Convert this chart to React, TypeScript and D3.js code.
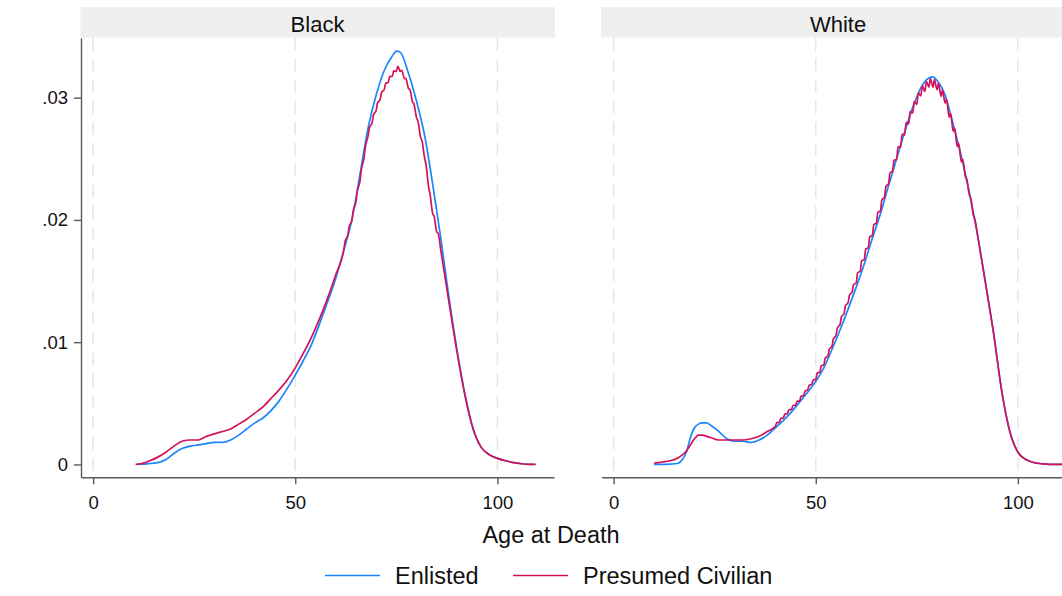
import { useEffect, useRef } from 'react';
import * as d3 from 'd3';

const panels = ['Black', 'White'];
const seriesNames = ['Enlisted', 'Presumed Civilian'];
const seriesColors = ['#1a85ff', '#d41159'];
const xTicks = [0, 50, 100];
const yTicks = [0, 0.01, 0.02, 0.03];
const yTickLabels = ['0', '.01', '.02', '.03'];

// [age, density]
const blackEnlisted: [number, number][] = [
  [11, 0], [12, 0.00002], [14, 0.00008], [16, 0.00015], [18, 0.0004], [20, 0.0009], [22, 0.0013],
  [24, 0.0015], [26, 0.0016], [28, 0.0017], [30, 0.0018], [32, 0.0018], [34, 0.002], [36, 0.0024],
  [38, 0.0029], [40, 0.0034], [42, 0.0038], [44, 0.0044], [46, 0.0052], [48, 0.0062], [50, 0.0073],
  [52, 0.0085], [54, 0.0098], [56, 0.0115], [58, 0.0133], [60, 0.0152], [62, 0.0175], [64, 0.02],
  [66, 0.0237], [68, 0.0275], [70, 0.0302], [72, 0.0322], [74, 0.0334], [75, 0.0338], [76, 0.0337],
  [78, 0.032], [80, 0.0297], [82, 0.0269], [84, 0.0229], [86, 0.0185], [88, 0.0137], [90, 0.0094],
  [92, 0.0057], [94, 0.0029], [96, 0.0014], [98, 0.0008], [100, 0.0005], [102, 0.0003], [104, 0.00015],
  [106, 0.00006], [108, 0.00001], [109, 0],
];

const blackCivilian: [number, number][] = [
  [10.5, 0], [12, 0.00008], [14, 0.0003], [16, 0.0006], [18, 0.001], [20, 0.0015], [22, 0.0019],
  [24, 0.002], [26, 0.002], [28, 0.0023], [30, 0.0025], [32, 0.0027], [34, 0.0029], [36, 0.0033],
  [38, 0.0037], [40, 0.0042], [42, 0.0047], [44, 0.0054], [46, 0.0061], [48, 0.0069], [50, 0.0079],
  [52, 0.0091], [54, 0.0104], [56, 0.0119], [58, 0.0136], [60, 0.0155],
  [62, 0.01755], [62.35, 0.01827], [63, 0.01875], [63.35, 0.01947], [64, 0.01995], [64.35, 0.02078],
  [65, 0.02145], [65.35, 0.02235], [66, 0.02315], [66.35, 0.02412], [67, 0.02505], [67.35, 0.02598],
  [68, 0.02685], [68.35, 0.02753], [69, 0.02795], [69.35, 0.0286], [70, 0.02895], [70.35, 0.02957],
  [71, 0.02985], [71.35, 0.03043], [72, 0.03065], [72.35, 0.03116], [73, 0.03125], [73.35, 0.03172],
  [74, 0.03175], [74.35, 0.03219], [75, 0.03215], [75.35, 0.03255], [76, 0.03215], [76.35, 0.03224],
  [77, 0.03155], [77.35, 0.03157], [78, 0.03075], [78.35, 0.03067], [79, 0.02965], [79.35, 0.02949],
  [80, 0.02835], [80.35, 0.02809], [81, 0.02675], [81.35, 0.02646], [82, 0.02505], [82.35, 0.02451],
  [83, 0.02265], [83.35, 0.02208], [84, 0.0205], [84.35, 0.0203], [85, 0.019], [85.35, 0.0189],
  [86, 0.0175], [88, 0.0133], [90, 0.0092], [92, 0.0056], [94, 0.0029], [96, 0.0014], [98, 0.0008],
  [100, 0.0005], [102, 0.0003], [104, 0.00015], [106, 0.00006], [108, 0.00001], [109.5, 0],
];

const whiteEnlisted: [number, number][] = [
  [10, 0], [12, 0], [14, 0.00003], [16, 0.0001], [17, 0.0004], [18, 0.001], [19, 0.0022], [20, 0.003],
  [21, 0.0033], [22, 0.0034], [23, 0.0034], [24, 0.0032], [26, 0.0027], [28, 0.0021], [30, 0.0019],
  [32, 0.0019], [34, 0.0018], [36, 0.002], [38, 0.0024], [40, 0.003], [42, 0.0036], [44, 0.0043],
  [46, 0.0051], [48, 0.0059], [50, 0.0068], [52, 0.0079], [54, 0.0094], [56, 0.011], [58, 0.0127],
  [60, 0.0145], [62, 0.0164], [64, 0.0185], [66, 0.0205], [68, 0.0228], [70, 0.025], [72, 0.0272],
  [74, 0.0292], [76, 0.0308], [78, 0.0316], [79, 0.0317], [80, 0.0314], [82, 0.0302], [84, 0.0278],
  [86, 0.0252], [88, 0.0222], [90, 0.0188], [92, 0.0148], [94, 0.0107], [96, 0.006], [98, 0.0027],
  [100, 0.001], [102, 0.0004], [104, 0.00015], [106, 0.00005], [108, 0.00001], [111, 0],
];

const whiteCivilian: [number, number][] = [
  [10, 0.0001], [12, 0.0002], [14, 0.0003], [16, 0.00055], [18, 0.0011], [19, 0.0016], [20, 0.0021],
  [21, 0.0024], [22, 0.0024], [23, 0.0023], [24, 0.0022], [26, 0.002], [28, 0.002], [30, 0.002],
  [32, 0.002], [34, 0.0021], [36, 0.0023], [38, 0.0027],
  [40, 0.0031], [40.35, 0.00342], [41, 0.00345], [41.35, 0.00377], [42, 0.0038], [42.35, 0.00412],
  [43, 0.00415], [43.35, 0.00447], [44, 0.0045], [44.35, 0.00482], [45, 0.00485], [45.35, 0.00517],
  [46, 0.0052], [46.35, 0.00556], [47, 0.00565], [47.35, 0.006], [48, 0.0061], [48.35, 0.00646],
  [49, 0.00655], [49.35, 0.00691], [50, 0.00695], [50.35, 0.00746], [51, 0.00755], [51.35, 0.00806],
  [52, 0.00815], [52.35, 0.0087], [53, 0.00885], [53.35, 0.00943], [54, 0.00965], [54.35, 0.01027],
  [55, 0.01055], [55.35, 0.01117], [56, 0.01145], [56.35, 0.01207], [57, 0.01235], [57.35, 0.01297],
  [58, 0.01325], [58.35, 0.01385], [59, 0.0141], [59.35, 0.0147], [60, 0.01485], [60.35, 0.01568],
  [61, 0.0158], [61.35, 0.01665], [62, 0.01675], [62.35, 0.0176], [63, 0.01775], [63.35, 0.0186],
  [64, 0.01875], [64.35, 0.0196], [65, 0.01975], [65.35, 0.0206], [66, 0.02075], [66.35, 0.02164],
  [67, 0.02185], [67.35, 0.02274], [68, 0.02295], [68.35, 0.02382], [69, 0.024], [69.35, 0.02487],
  [70, 0.02495], [70.35, 0.026], [71, 0.02595], [71.35, 0.027], [72, 0.02695], [72.35, 0.02797],
  [73, 0.02785], [73.35, 0.02887], [74, 0.02875], [74.35, 0.0297], [75, 0.02945], [75.35, 0.03039],
  [76, 0.03015], [76.35, 0.03097], [77, 0.0305], [77.35, 0.03132], [78, 0.03085], [78.35, 0.03155],
  [79, 0.03085], [79.35, 0.03148], [80, 0.03065], [80.35, 0.03116], [81, 0.0301], [81.35, 0.03061],
  [82, 0.02955], [82.35, 0.02985], [83, 0.0284], [83.35, 0.02871], [84, 0.02725], [84.35, 0.02751],
  [85, 0.026], [85.35, 0.02626], [86, 0.02475], [86.35, 0.02496], [87, 0.02355], [87.35, 0.02333],
  [88, 0.02205], [88.35, 0.02175], [89, 0.02035], [89.35, 0.02006],
  [90, 0.0188], [92, 0.0148], [94, 0.0107], [96, 0.006], [98, 0.0027], [100, 0.001], [102, 0.0004],
  [104, 0.00015], [106, 0.00005], [108, 0.00001], [111, 0],
];

const panelSeries: Record<string, [number, number][][]> = {
  Black: [blackEnlisted, blackCivilian],
  White: [whiteEnlisted, whiteCivilian],
};

export default function App() {
  const svgRef = useRef<SVGSVGElement>(null);

  useEffect(() => {
    if (!svgRef.current) return;
    const svg = d3.select(svgRef.current);
    svg.selectAll('*').remove();

    const font = '"Liberation Sans", Arial, sans-serif';
    const panelW = 473;
    const panelLefts = [81, 601.5];
    const top = 37.7;
    const bottom = 477.3;

    const y = d3.scaleLinear().domain([-0.00105, 0.0349]).range([bottom, top]);

    panels.forEach((name, pi) => {
      const x0 = panelLefts[pi];
      const x = d3.scaleLinear().domain([-3, 114]).range([x0, x0 + panelW]);

      // Strip
      svg.append('rect')
        .attr('x', x0 - 0.5).attr('y', 7)
        .attr('width', panelW + 1.5).attr('height', 30.5)
        .attr('fill', '#efefef');
      svg.append('text')
        .attr('x', x0 + panelW / 2).attr('y', 31.5)
        .attr('text-anchor', 'middle')
        .attr('font-family', font).attr('font-size', '22px')
        .attr('fill', '#111')
        .text(name);

      // Grid
      xTicks.forEach((t) => {
        svg.append('line')
          .attr('x1', x(t)).attr('x2', x(t))
          .attr('y1', top).attr('y2', bottom)
          .attr('stroke', '#e6e6e6')
          .attr('stroke-width', 1.5)
          .attr('stroke-dasharray', '13,8');
      });

      // Lines
      const line = d3.line<[number, number]>()
        .x(d => x(d[0]))
        .y(d => y(d[1]))
        .curve(d3.curveMonotoneX);

      panelSeries[name].forEach((s, si) => {
        svg.append('path')
          .datum(s)
          .attr('d', line)
          .attr('fill', 'none')
          .attr('stroke', seriesColors[si])
          .attr('stroke-width', 1.7)
          .attr('stroke-linejoin', 'round');
      });

      // X axis
      const gx = svg.append('g')
        .attr('transform', `translate(0,${bottom})`)
        .call(d3.axisBottom(x).tickValues(xTicks).tickSize(7).tickSizeOuter(0).tickPadding(12));
      gx.select('.domain').attr('stroke', '#5a5a5a').attr('stroke-width', 1.4);
      gx.selectAll('.tick line').attr('stroke', '#5a5a5a').attr('stroke-width', 1.4);
      gx.selectAll('text')
        .attr('font-family', font).attr('font-size', '18.5px').attr('fill', '#111');

      // Y axis, left panel only
      if (pi === 0) {
        const gy = svg.append('g')
          .attr('transform', `translate(${x0},0)`)
          .call(d3.axisLeft(y).tickValues(yTicks).tickSize(7).tickSizeOuter(0).tickPadding(6)
            .tickFormat((d, i) => yTickLabels[i]));
        gy.select('.domain').attr('stroke', '#5a5a5a').attr('stroke-width', 1.4);
        gy.selectAll('.tick line').attr('stroke', '#5a5a5a').attr('stroke-width', 1.4);
        gy.selectAll('text')
          .attr('font-family', font).attr('font-size', '18.5px').attr('fill', '#111');
      }
    });

    // Axis title
    svg.append('text')
      .attr('x', 551).attr('y', 542.5)
      .attr('text-anchor', 'middle')
      .attr('font-family', font).attr('font-size', '23.5px')
      .attr('fill', '#111')
      .text('Age at Death');

    // Legend
    const legendX = [325, 513];
    seriesNames.forEach((n, i) => {
      svg.append('line')
        .attr('x1', legendX[i]).attr('x2', legendX[i] + 55)
        .attr('y1', 575.5).attr('y2', 575.5)
        .attr('stroke', seriesColors[i]).attr('stroke-width', 1.7);
      svg.append('text')
        .attr('x', legendX[i] + 70).attr('y', 584)
        .attr('font-family', font).attr('font-size', '23.5px')
        .attr('fill', '#111')
        .text(n);
    });
  }, []);

  return (
    <svg
      ref={svgRef}
      width={1062}
      height={596}
      style={{ position: 'absolute', left: 0, top: 0, background: '#fff' }}
    />
  );
}
